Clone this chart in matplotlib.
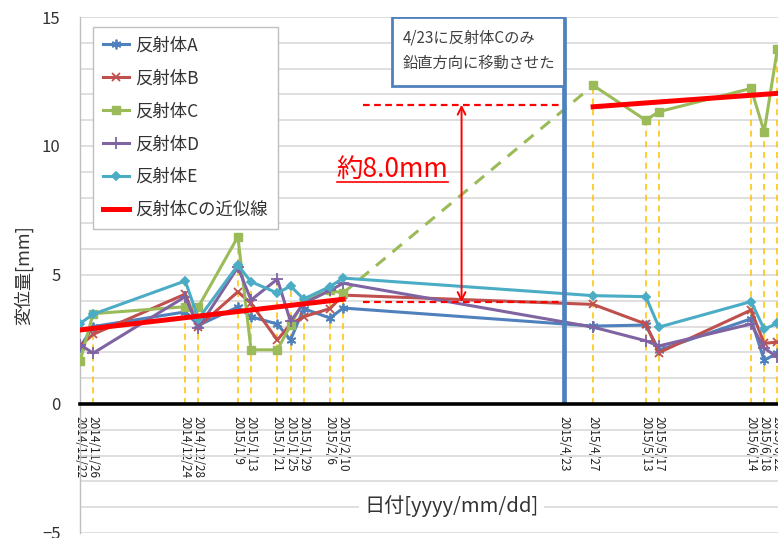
import numpy as np
import matplotlib
matplotlib.use("Agg")
import matplotlib.pyplot as plt
import matplotlib.dates as mdates
from matplotlib.patches import Rectangle
from matplotlib.ticker import MultipleLocator, FixedLocator, FixedFormatter

plt.rcParams['font.family'] = ['Noto Sans CJK JP', 'DejaVu Sans']

# measurement dates
dates = np.array(['2014-11-22', '2014-11-26', '2014-12-24', '2014-12-28', '2015-01-09',
                  '2015-01-13', '2015-01-21', '2015-01-25', '2015-01-29', '2015-02-06',
                  '2015-02-10', '2015-04-27', '2015-05-13', '2015-05-17', '2015-06-14',
                  '2015-06-18', '2015-06-22'], dtype='datetime64[D]')

# displacement [mm] per reflector
refl_a = [2.2, 3.0, 3.57, 3.05, 3.76, 3.38, 3.1, 2.48, 3.7, 3.33, 3.72, 3.02, 3.06, 2.09, 3.3, 1.7, 1.97]
refl_b = [2.25, 2.7, 4.26, 3.0, 4.35, 3.9, 2.48, 3.1, 3.38, 3.7, 4.22, 3.86, 3.1, 1.99, 3.64, 2.35, 2.4]
refl_c = [1.65, 3.5, 3.77, 3.77, 6.48, 2.1, 2.1, 3.05, 4.0, 4.4, 4.3, 12.35, 11.0, 11.33, 12.23, 10.55, 13.75]
refl_d = [2.3, 1.97, 4.16, 2.95, 5.3, 4.03, 4.84, 3.2, 3.9, 4.4, 4.68, 2.98, 2.45, 2.25, 3.1, 2.17, 1.82]
refl_e = [3.12, 3.48, 4.77, 3.3, 5.38, 4.74, 4.3, 4.57, 4.07, 4.55, 4.88, 4.2, 4.16, 2.98, 3.97, 2.9, 3.13]

# approximate line of reflector C, before / after the move
trend1_x = np.array(['2014-11-22', '2015-02-10'], dtype='datetime64[D]')
trend1_y = [2.87, 4.06]
trend2_x = np.array(['2015-04-27', '2015-06-22'], dtype='datetime64[D]')
trend2_y = [11.52, 12.04]

# the move event (drawn line sits slightly left of its real date)
move_x = np.datetime64('2015-04-18')
move_label = '2015/4/23'
level_before = 3.95
level_after = 11.6

series = [
    ('反射体A', refl_a, '#4F81BD', dict(marker=(6, 2, 0), ms=7)),
    ('反射体B', refl_b, '#C0504D', dict(marker='x', ms=6)),
    ('反射体C', refl_c, '#9BBB59', dict(marker='s', ms=6)),
    ('反射体D', refl_d, '#8064A2', dict(marker='+', ms=8)),
    ('反射体E', refl_e, '#4BACC6', dict(marker='D', ms=4)),
]

fig = plt.figure(figsize=(7.78, 5.38), dpi=100)
ax = fig.add_axes([0.1028, 0.0093, 0.8972, 0.9591])

x0 = mdates.date2num(dates[0])
ax.set_xlim(x0, x0 + 212.2)
ax.set_ylim(-5, 15)

# grid
ax.yaxis.set_major_locator(MultipleLocator(5))
ax.yaxis.set_minor_locator(MultipleLocator(1))
ax.grid(True, which='both', axis='y', color='#D9D9D9', lw=1.2, zorder=0)
ax.grid(False, axis='x')

# drop lines
tops = np.max(np.array([refl_a, refl_b, refl_c, refl_d, refl_e]), axis=0)
ax.vlines(dates, 0, tops, colors='#FFC000', linestyles=(0, (4, 3)), lw=1.1, zorder=2)

handles = []
for name, vals, col, mk in series:
    if name == '反射体C':
        h, = ax.plot(dates[:11], vals[:11], color=col, lw=2.2, mec=col, mfc=col, zorder=3, label=name, **mk)
        ax.plot(dates[10:12], vals[10:12], color=col, lw=2.2, ls=(0, (4, 3)), zorder=3)
        ax.plot(dates[11:], vals[11:], color=col, lw=2.2, mec=col, mfc=col, zorder=3, **mk)
    else:
        h, = ax.plot(dates, vals, color=col, lw=2.2, mec=col, mfc=col, mew=1.3, zorder=3, label=name, **mk)
    handles.append(h)

h, = ax.plot(trend1_x, trend1_y, color='#FF0000', lw=3.6, zorder=4, label='反射体Cの近似線')
ax.plot(trend2_x, trend2_y, color='#FF0000', lw=3.6, zorder=4)
handles.append(h)

# move marker line and note box
mx = mdates.date2num(move_x)
ax.plot([move_x, move_x], [0, 15.0], color='#4F81BD', lw=3.4, zorder=5, solid_capstyle='butt')
box_left = mdates.date2num(np.datetime64('2015-02-25'))
ax.add_patch(Rectangle((box_left, 12.33), mx - box_left, 15.0 - 12.33, fill=True,
                       facecolor='white', edgecolor='#4F81BD', lw=2.0, zorder=5))
ax.text(box_left + 3, 14.2, '4/23に反射体Cのみ', fontsize=11, color='#404040', va='center', zorder=6)
ax.text(box_left + 3, 13.2, '鉛直方向に移動させた', fontsize=11, color='#404040', va='center', zorder=6)

# step size annotation
lvl_start = mdates.date2num(np.datetime64('2015-02-16'))
ax.hlines([level_after, level_before], lvl_start, mx, colors='#FF0000', linestyles=(0, (3, 2)), lw=1.6, zorder=4)
arr_x = mdates.date2num(np.datetime64('2015-03-18'))
ax.annotate('', xy=(arr_x, level_after), xytext=(arr_x, level_before),
            arrowprops=dict(arrowstyle='<->', color='#FF0000', lw=1.4, mutation_scale=14,
                            shrinkA=0, shrinkB=0), zorder=4)
ax.text(mdates.date2num(np.datetime64('2015-02-25')), 9.1, '約8.0mm', fontsize=19, color='#FF0000',
        ha='center', va='center', zorder=6)
ax.plot([lvl_start - 7.9, lvl_start + 25.9], [8.6, 8.6], color='#FF0000', lw=1.2, zorder=6)

# axes styling
for s in ['top', 'right']:
    ax.spines[s].set_visible(False)
ax.spines['bottom'].set_position(('data', 0))
ax.spines['bottom'].set_color('black')
ax.spines['bottom'].set_linewidth(2.6)
ax.spines['bottom'].set_zorder(5)
ax.spines['left'].set_color('#BFBFBF')
ax.spines['left'].set_linewidth(1.0)

tick_pos = list(mdates.date2num(dates)) + [mx]
tick_lab = [f"{d.astype(object).year}/{d.astype(object).month}/{d.astype(object).day}" for d in dates] + [move_label]
ax.xaxis.set_major_locator(FixedLocator(tick_pos))
ax.xaxis.set_major_formatter(FixedFormatter(tick_lab))
ax.tick_params(axis='x', length=0, pad=9, labelsize=8.5, labelrotation=-90, labelcolor='#222222')
ax.tick_params(axis='y', which='both', length=0, pad=14, labelsize=12, labelcolor='#333333')

ax.set_ylabel('変位量[mm]', fontsize=13, color='#333333', labelpad=6)
ax.text(0.532, 0.052, '日付[yyyy/mm/dd]', transform=ax.transAxes, fontsize=14.5, color='#333333',
        ha='center', va='center', zorder=6,
        bbox=dict(facecolor='white', edgecolor='none', pad=4))

leg = ax.legend(handles=handles, loc='upper left', bbox_to_anchor=(0.0186, 0.981), borderaxespad=0,
                fontsize=12.5, handlelength=1.5, labelspacing=0.86, fancybox=False,
                edgecolor='#BFBFBF', framealpha=1, borderpad=0.55, handletextpad=0.4)
leg.get_frame().set_linewidth(1.0)
for t in leg.get_texts():
    t.set_color('#333333')
leg.set_zorder(7)

fig.savefig('out.png', dpi=100)
